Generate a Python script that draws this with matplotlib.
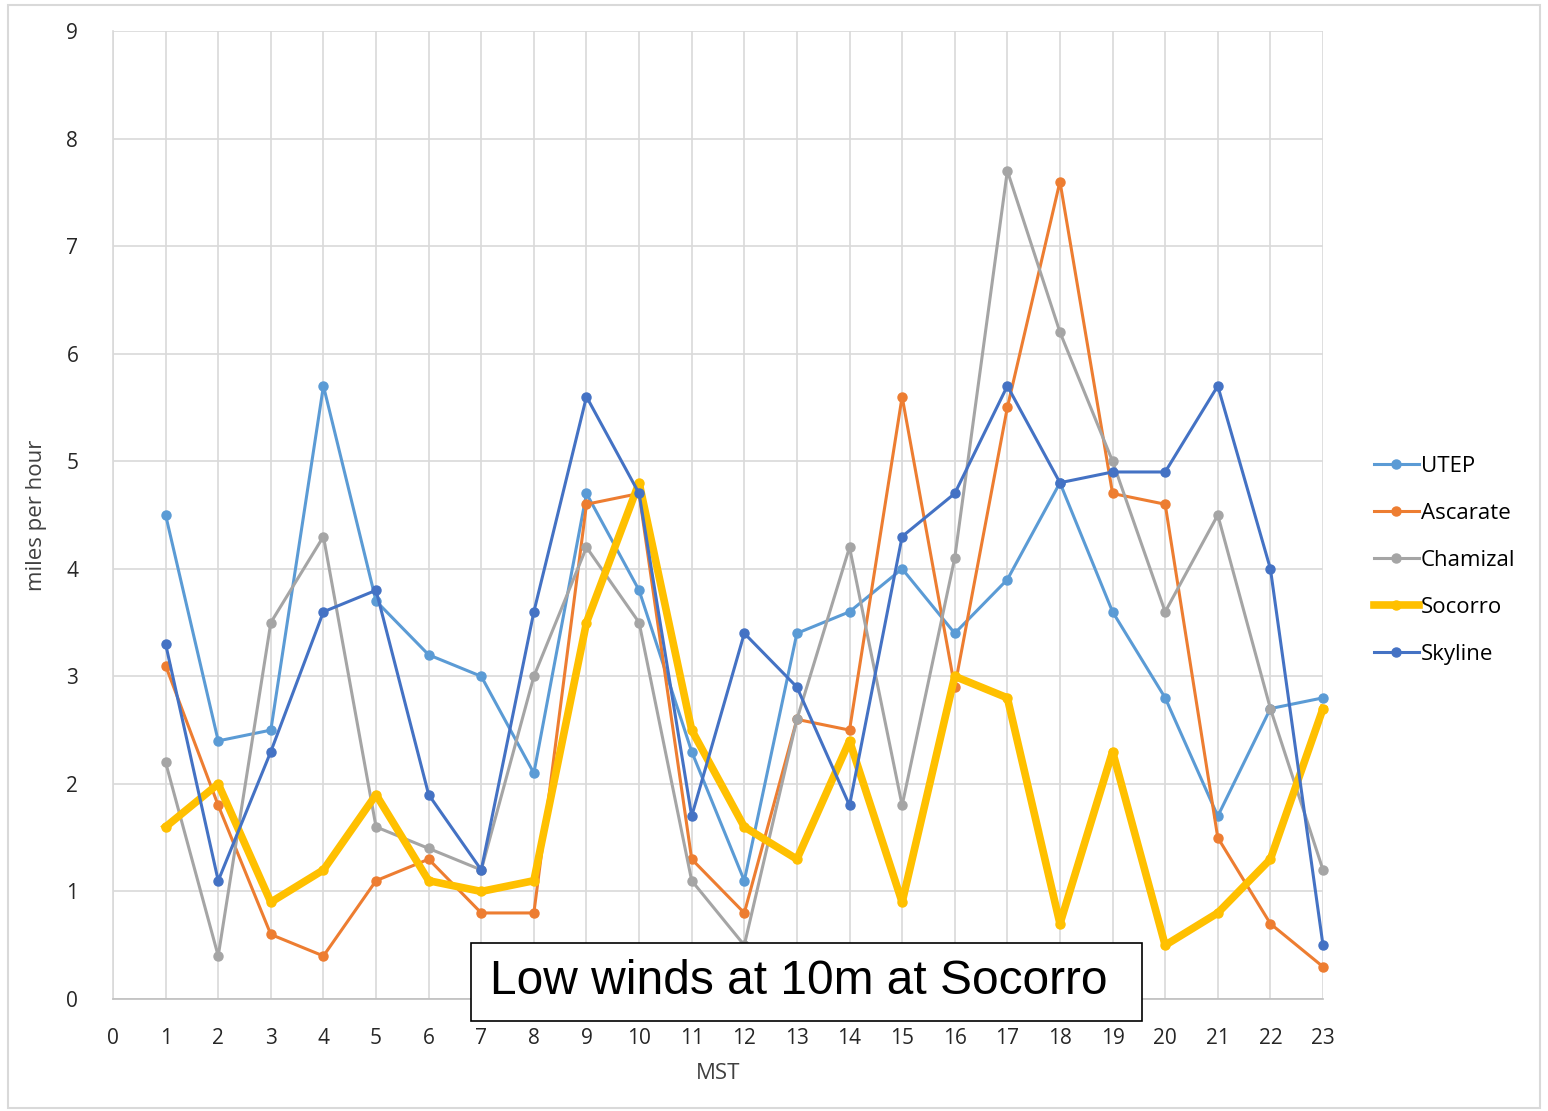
import numpy as np
import matplotlib
matplotlib.use("Agg")
import matplotlib.pyplot as plt
from matplotlib.patches import Rectangle

# hours (MST)
hours = list(range(1, 24))

utep = [4.5, 2.4, 2.5, 5.7, 3.7, 3.2, 3.0, 2.1, 4.7, 3.8, 2.3, 1.1,
        3.4, 3.6, 4.0, 3.4, 3.9, 4.8, 3.6, 2.8, 1.7, 2.7, 2.8]
ascarate = [3.1, 1.8, 0.6, 0.4, 1.1, 1.3, 0.8, 0.8, 4.6, 4.7, 1.3, 0.8,
            2.6, 2.5, 5.6, 2.9, 5.5, 7.6, 4.7, 4.6, 1.5, 0.7, 0.3]
chamizal = [2.2, 0.4, 3.5, 4.3, 1.6, 1.4, 1.2, 3.0, 4.2, 3.5, 1.1, 0.5,
            2.6, 4.2, 1.8, 4.1, 7.7, 6.2, 5.0, 3.6, 4.5, 2.7, 1.2]
socorro = [1.6, 2.0, 0.9, 1.2, 1.9, 1.1, 1.0, 1.1, 3.5, 4.8, 2.5, 1.6,
           1.3, 2.4, 0.9, 3.0, 2.8, 0.7, 2.3, 0.5, 0.8, 1.3, 2.7]
skyline = [3.3, 1.1, 2.3, 3.6, 3.8, 1.9, 1.2, 3.6, 5.6, 4.7, 1.7, 3.4,
           2.9, 1.8, 4.3, 4.7, 5.7, 4.8, 4.9, 4.9, 5.7, 4.0, 0.5]

series = [("UTEP", utep, "#5B9BD5", 2.2),
          ("Ascarate", ascarate, "#ED7D31", 2.2),
          ("Chamizal", chamizal, "#A5A5A5", 2.2),
          ("Socorro", socorro, "#FFC000", 5.5),
          ("Skyline", skyline, "#4472C4", 2.2)]

plt.rcParams['font.family'] = ['Open Sans', 'DejaVu Sans']

fig = plt.figure(figsize=(15.48, 11.11), dpi=100)
fig.patches.append(Rectangle((8/1548, 3/1111), 1532/1548, 1103/1111,
                             transform=fig.transFigure, fill=False,
                             edgecolor="#d9d9d9", lw=1.5))
ax = fig.add_axes([113/1548, 1 - 999/1111, 1210/1548, 968/1111])

for name, vals, col, lw in series:
    ax.plot(hours, vals, color=col, lw=lw, marker="o", markersize=6.5,
            label=name, clip_on=False, solid_joinstyle="round")

ax.set_xlim(0, 23)
ax.set_ylim(0, 9)
ax.set_xticks(range(0, 24))
ax.set_yticks(range(0, 10))
ax.grid(True, color="#d9d9d9", lw=1.2)
ax.set_axisbelow(True)
for s in ["top", "right"]:
    ax.spines[s].set_visible(False)
ax.spines["left"].set_color("#d9d9d9")
ax.spines["left"].set_linewidth(1.2)
ax.spines["bottom"].set_color("#bfbfbf")
ax.spines["bottom"].set_linewidth(1.2)
ax.tick_params(length=0, labelsize=15, colors="#262626")
ax.tick_params(axis="x", pad=21)
ax.tick_params(axis="y", pad=25)
ax.set_xlabel("MST", fontsize=16, color="#404040", labelpad=10)
ax.set_ylabel("miles per hour", fontsize=16, color="#404040", labelpad=14)

# annotation box
ax.add_patch(Rectangle((0.2959, -0.0227), 0.5545, 0.0806, transform=ax.transAxes,
                       facecolor="white", edgecolor="black", lw=1.2,
                       clip_on=False, zorder=10))
ax.text(0.3116, 0.0176, "Low winds at 10m at Socorro", transform=ax.transAxes,
        fontsize=34.5, family="Liberation Sans", ha="left", va="center",
        zorder=11)

ax.legend(loc="center left", bbox_to_anchor=(1.035, 0.4535), frameon=False,
          fontsize=16, handlelength=2.0, handletextpad=0.1,
          labelspacing=1.17, borderaxespad=0)

fig.savefig("out.png", dpi=100)
